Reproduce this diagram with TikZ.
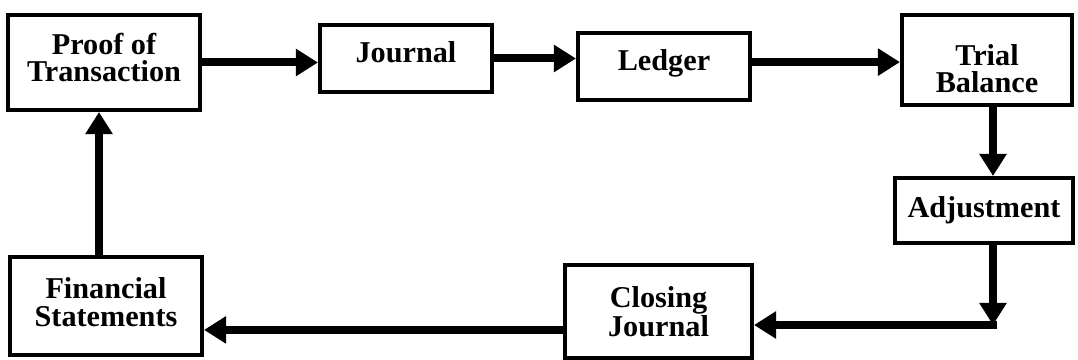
\documentclass[tikz,border=0pt]{standalone}
\usepackage{fontspec}
\setmainfont{Liberation Serif}
\usetikzlibrary{arrows.meta}
\tikzset{>={Triangle[length=0.55cm,width=0.65cm]}}
\tikzset{
  stepbox/.style={draw,line width=0.1cm,align=center,inner sep=0pt,
    font=\fontsize{21.5}{19.5}\selectfont\bfseries},
  flow/.style={->,line width=0.2cm}
}

\begin{document}
\begin{tikzpicture}[x=0.025cm,y=-0.025cm]
      \useasboundingbox (0,0) rectangle (1078,360);
      \node [stepbox,minimum width=4.8cm,minimum height=2.375cm,text depth=0.25cm] (pot) at (104,62.5) {Proof of\\Transaction};
      \node [stepbox,minimum width=4.3cm,minimum height=1.675cm,text depth=0.3cm] (journal) at (406,58.5) {Journal};
      \node [stepbox,minimum width=4.3cm,minimum height=1.675cm,text depth=0.3cm] (ledger) at (664,66.5) {Ledger};
      \node [stepbox,minimum width=4.25cm,minimum height=2.25cm,text height=1.65cm] (tb) at (987,60) {Trial\\Balance};
      \node [stepbox,minimum width=4.45cm,minimum height=1.625cm] (adj) at (984,210.5) {Adjustment};
      \node [stepbox,minimum width=4.675cm,minimum height=2.325cm] (cj) at (658.5,311.5) {Closing\\Journal};
      \node [stepbox,minimum width=4.8cm,minimum height=2.45cm,text depth=0.2cm] (fs) at (106,306) {Financial\\Statements};
      \coordinate (bend) at (993,325);
      \draw [flow] (pot) -- (pot -| journal.west);
      \draw [flow] (journal) -- (journal -| ledger.west);
      \draw [flow] ([yshift=0.11cm]ledger.east) -- ([yshift=0.11cm]ledger.east -| tb.west);
      \draw [flow] ([xshift=0.15cm]tb.south) -- ([xshift=0.15cm]tb.south |- adj.north);
      \draw [flow] (adj.south -| bend) -- (bend);
      \draw [flow] ([xshift=0.1cm]bend) -- (bend -| cj.east);
      \draw [flow] ([yshift=-0.46cm]cj.west) -- ([yshift=-0.46cm]cj.west -| fs.east);
      \draw [flow] ([xshift=-0.175cm]fs.north) -- ([xshift=-0.175cm]fs.north |- pot.south);
\end{tikzpicture}
\end{document}
